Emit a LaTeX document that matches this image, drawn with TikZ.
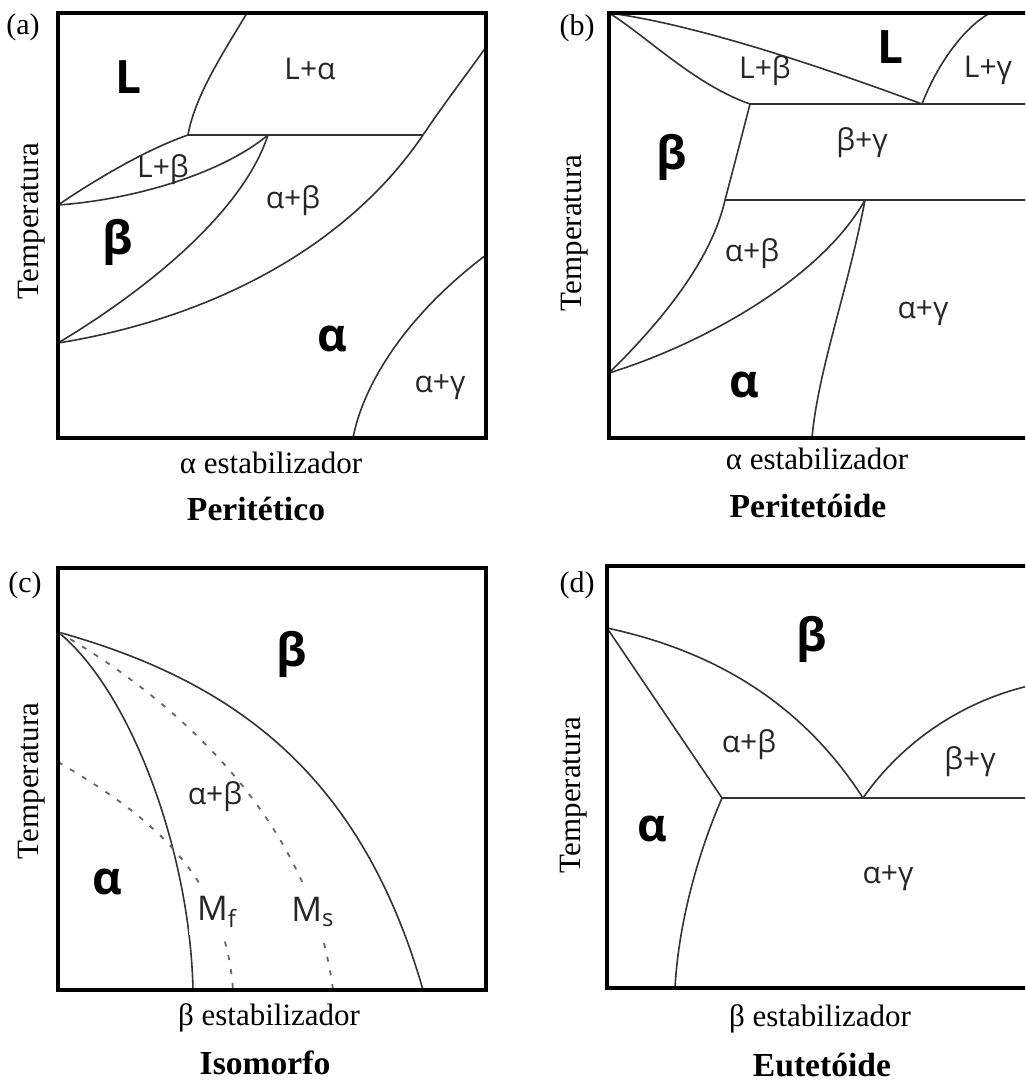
\documentclass[tikz,border=0pt]{standalone}
\usepackage{fontspec}
\setmainfont{Liberation Serif}
\newfontfamily\phasefont{Open Sans}

\begin{document}
\begin{tikzpicture}[
  x=0.5pt, y=-0.5pt,
  frame/.style={line width=2.3pt, line join=miter},
  phase/.style={line width=0.8pt, black!80},
  mart/.style={line width=0.9pt, black!60, dash pattern=on 2.5pt off 4.5pt},
  lbl/.style={font=\phasefont\fontsize{15pt}{15pt}\selectfont, text=black!85, inner sep=1pt},
  big/.style={font=\phasefont\bfseries\fontsize{23pt}{23pt}\selectfont, inner sep=1pt},
  axis/.style={font=\fontsize{15.5pt}{15.5pt}\selectfont, inner sep=0pt},
  title/.style={font=\bfseries\fontsize{16.8pt}{16.8pt}\selectfont, inner sep=0pt},
  tag/.style={font=\fontsize{15pt}{15pt}\selectfont, inner sep=0pt}
]
  \useasboundingbox (0,0) rectangle (1025,1081);
  \clip (0,0) rectangle (1025,1081);

  % (a) Peritetico: peritectic line, L+beta lens, alpha solvus
  \coordinate (aper) at (188,135);
  \coordinate (abeta) at (268,135);
  \coordinate (asolv) at (423,135);
  \coordinate (alens) at (58,205);
  \coordinate (alow) at (58,343);
  \draw[phase] (247,13) .. controls (225,50) and (195,95) .. (aper);
  \draw[phase] (aper) -- (asolv);
  \draw[phase] (alens) .. controls (95,180) and (145,150) .. (aper);
  \draw[phase] (alens) .. controls (130,200) and (220,175) .. (abeta);
  \draw[phase] (alow) .. controls (130,300) and (240,220) .. (abeta);
  \draw[phase] (alow) .. controls (190,322) and (338,260) .. (asolv)
               .. controls (448,98) and (470,70) .. (486,47);
  \draw[phase] (353,438) .. controls (362,390) and (400,320) .. (486,255);
  \draw[frame] (58,13) rectangle (486,438);

  \node[tag] (taga) at (23,27) {(a)};
  \node[big] (aL) at (128,77) {L};
  \node[lbl] (aLa) at (310,69) {L+α};
  \node[lbl] (aLb) at (163,170) {L+β};
  \node[big] (ab) at (118,242) {β};
  \node[lbl] (aab) at (293,201) {α+β};
  \node[big] (aa) at (332,339) {α};
  \node[lbl] (aag) at (440,387) {α+γ};
  \node[axis, rotate=90] (ya) at (32,221) {Temperatura};
  \node[axis] (xa) at (271,463) {α estabilizador};
  \node[title] (ta) at (256,509) {Peritético};

  % (b) Peritetoide: two horizontal lines run off to the right
  \coordinate (btl) at (609,13);
  \coordinate (blb) at (750,104);
  \coordinate (blg) at (922,104);
  \coordinate (bbg) at (725,200);
  \coordinate (bag) at (865,200);
  \coordinate (bab) at (609,373);
  \draw[phase] (btl) .. controls (700,25) and (830,70) .. (blg);
  \draw[phase] (btl) .. controls (645,35) and (695,85) .. (blb);
  \draw[phase] (blg) .. controls (935,70) and (960,30) .. (990,13);
  \draw[phase] (blb) -- (1037,104);
  \draw[phase] (blb) .. controls (742,135) and (733,170) .. (bbg);
  \draw[phase] (bbg) -- (1037,200);
  \draw[phase] (bbg) .. controls (712,258) and (665,318) .. (bab);
  \draw[phase] (bab) .. controls (700,345) and (820,280) .. (bag);
  \draw[phase] (bag) .. controls (848,290) and (818,370) .. (812,438);
  \draw[frame] (609,13) rectangle (1037,438);

  \node[tag] (tagb) at (577,28) {(b)};
  \node[big] (bL) at (890,47) {L};
  \node[lbl] (bLb) at (765,71) {L+β};
  \node[lbl] (bLg) at (988,70) {L+γ};
  \node[big] (bb) at (672,157) {β};
  \node[lbl] (bbg-l) at (862,143) {β+γ};
  \node[lbl] (bab-l) at (752,254) {α+β};
  \node[lbl] (bag-l) at (923,313) {α+γ};
  \node[big] (ba) at (744,385) {α};
  \node[axis, rotate=90] (yb) at (575,233) {Temperatura};
  \node[axis] (xb) at (817,459) {α estabilizador};
  \node[title] (tb) at (808,506) {Peritetóide};

  % (c) Isomorfo: solvus/solidus plus martensite start and finish
  \coordinate (ctop) at (58,632);
  \coordinate (cmf) at (58,762);
  \draw[phase] (ctop) .. controls (130,690) and (190,850) .. (193,990);
  \draw[phase] (ctop) .. controls (230,680) and (360,770) .. (423,990);
  \draw[mart] (ctop) .. controls (160,690) and (310,810) .. (333,990);
  \draw[mart] (cmf) .. controls (140,810) and (225,870) .. (233,990);
  \draw[frame] (58,568) rectangle (486,990);

  \node[tag] (tagc) at (25,585) {(c)};
  \node[big] (cb) at (292,654) {β};
  \node[lbl] (cab) at (215,797) {α+β};
  \node[big] (ca) at (107,882) {α};
  \node[lbl, fill=white, font=\phasefont\fontsize{17pt}{17pt}\selectfont, inner sep=4pt] (cMf) at (217,912) {M\textsubscript{f}};
  \node[lbl, fill=white, font=\phasefont\fontsize{17pt}{17pt}\selectfont, inner sep=4pt] (cMs) at (313,912) {M\textsubscript{s}};
  \node[axis, rotate=90] (yc) at (32,781) {Temperatura};
  \node[axis] (xc) at (269,1018) {β estabilizador};
  \node[title] (tc) at (265,1063) {Isomorfo};

  % (d) Eutetoide
  \coordinate (dtop) at (607,628);
  \coordinate (dab) at (722,798);
  \coordinate (deu) at (863,798);
  \draw[phase] (dtop) -- (dab);
  \draw[phase] (dtop) .. controls (710,650) and (800,700) .. (deu);
  \draw[phase] (dab) -- (1037,798);
  \draw[phase] (deu) .. controls (900,745) and (960,700) .. (1037,684);
  \draw[phase] (dab) .. controls (695,860) and (678,930) .. (675,988);
  \draw[frame] (607,566) rectangle (1037,988);

  \node[tag] (tagd) at (577,585) {(d)};
  \node[big] (db) at (812,639) {β};
  \node[lbl] (dab-l) at (749,745) {α+β};
  \node[lbl] (dbg) at (970,762) {β+γ};
  \node[big] (da) at (652,829) {α};
  \node[lbl] (dag) at (888,878) {α+γ};
  \node[axis, rotate=90] (yd) at (574,795) {Temperatura};
  \node[axis] (xd) at (820,1019) {β estabilizador};
  \node[title] (td) at (822,1065) {Eutetóide};
\end{tikzpicture}
\end{document}
